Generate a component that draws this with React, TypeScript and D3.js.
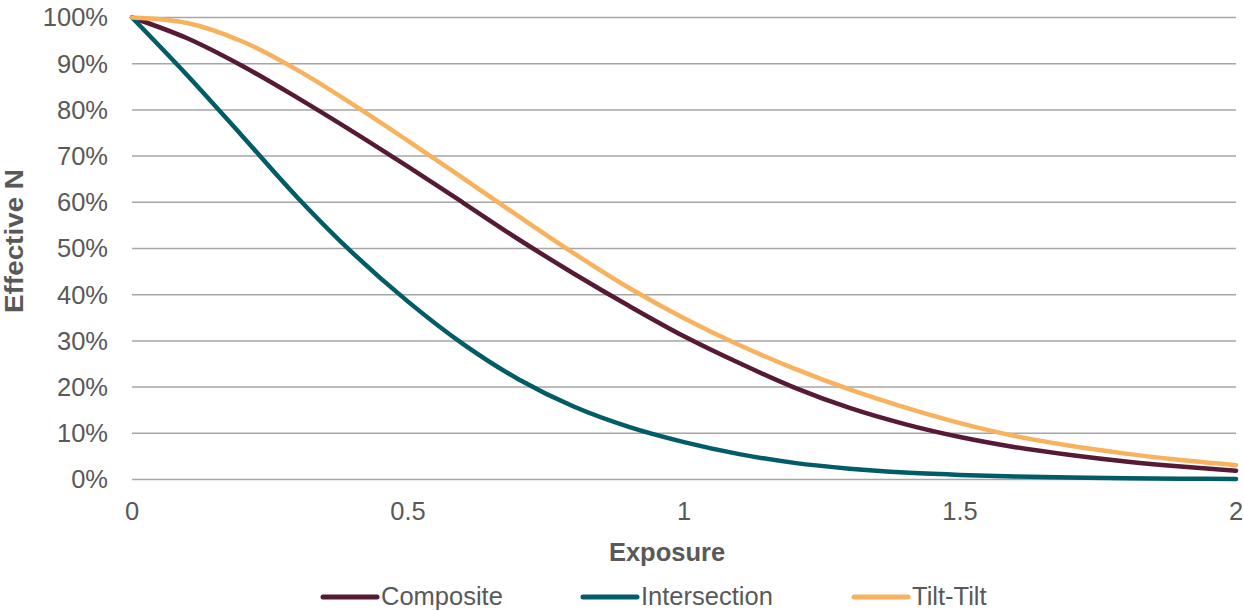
import React from "react";
import * as d3 from "d3";

const exposure = [0, 0.1, 0.2, 0.3, 0.4, 0.5, 0.6, 0.7, 0.8, 0.9, 1.0, 1.1, 1.2, 1.3, 1.4, 1.5, 1.6, 1.7, 1.8, 1.9, 2.0];
const composite = [100, 95.5, 89.5, 82.6, 75.3, 67.7, 59.9, 52.0, 44.6, 37.6, 31.0, 25.2, 19.9, 15.5, 12.0, 9.2, 7.0, 5.3, 3.9, 2.8, 1.9];
const intersection = [100, 87.5, 74.3, 61.0, 49.0, 38.5, 29.3, 21.7, 15.8, 11.4, 8.1, 5.5, 3.6, 2.35, 1.5, 1.0, 0.65, 0.42, 0.27, 0.17, 0.1];
const tiltTilt = [100, 98.8, 94.8, 88.6, 81.2, 73.3, 65.2, 57.0, 49.0, 41.5, 34.9, 29.1, 24.0, 19.5, 15.6, 12.2, 9.4, 7.3, 5.6, 4.2, 3.1];

const seriesNames = ["Composite", "Intersection", "Tilt-Tilt"];
const seriesColors = ["#561a35", "#005c66", "#f8b15c"];
const seriesValues = [composite, intersection, tiltTilt];

const yTicks = [0, 10, 20, 30, 40, 50, 60, 70, 80, 90, 100];
const xTicks = [0, 0.5, 1, 1.5, 2];
const xTickLabels = ["0", "0.5", "1", "1.5", "2"];

const W = 1244;
const H = 611;
const FONT = "'Liberation Sans', Arial, sans-serif";

export default function App() {
  const x = d3.scaleLinear().domain([0, 2]).range([132, 1236]);
  const y = d3.scaleLinear().domain([0, 100]).range([479.5, 17.5]);
  const line = d3
    .line<number>()
    .x((_, i) => x(exposure[i]))
    .y((d) => y(d))
    .curve(d3.curveCatmullRom.alpha(0.5));

  const legendX = [323, 583, 854];

  return (
    <svg
      width={W}
      height={H}
      style={{ position: "absolute", left: 0, top: 0, background: "#fff" }}
      fontFamily={FONT}
    >
      {yTicks.map((t) => (
        <g key={t}>
          <line x1={132} x2={1236} y1={y(t)} y2={y(t)} stroke="#a6a6a6" strokeWidth={1.5} />
          <text x={108} y={y(t)} dy="0.35em" textAnchor="end" fontSize={25.5} fill="#595959">
            {t + "%"}
          </text>
        </g>
      ))}
      {xTicks.map((t, i) => (
        <text key={t} x={x(t)} y={520} textAnchor="middle" fontSize={25.5} fill="#595959">
          {xTickLabels[i]}
        </text>
      ))}
      <text x={667} y={561} textAnchor="middle" fontSize={25.5} fontWeight="bold" fill="#595959">
        Exposure
      </text>
      <text
        transform="translate(23,241) rotate(-90)"
        textAnchor="middle"
        fontSize={26}
        fontWeight="bold"
        fill="#595959"
        textLength={144}
        lengthAdjust="spacingAndGlyphs"
      >
        Effective N
      </text>
      {seriesValues.map((vals, i) => (
        <path
          key={seriesNames[i]}
          d={line(vals) || ""}
          fill="none"
          stroke={seriesColors[i]}
          strokeWidth={4.5}
          strokeLinejoin="round"
          strokeLinecap="round"
        />
      ))}
      {seriesNames.map((n, i) => (
        <g key={n}>
          <line
            x1={legendX[i]}
            x2={legendX[i] + 54}
            y1={597}
            y2={597}
            stroke={seriesColors[i]}
            strokeWidth={5}
            strokeLinecap="round"
          />
          <text x={legendX[i] + 58} y={605} fontSize={25.5} fill="#595959">
            {n}
          </text>
        </g>
      ))}
    </svg>
  );
}
